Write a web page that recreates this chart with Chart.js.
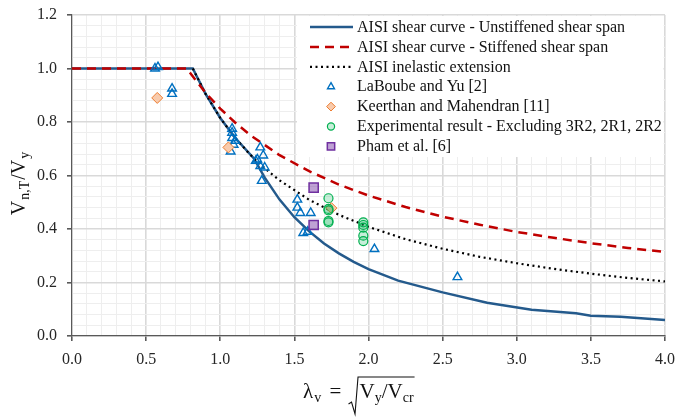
<!DOCTYPE html>
<html><head><meta charset="utf-8">
<script src="https://cdn.jsdelivr.net/npm/chart.js@4/dist/chart.umd.min.js"></script>
<style>html,body{margin:0;padding:0;background:#fff}</style>
</head><body>
<canvas id="c" width="691" height="417"></canvas>
<script>
// ---- Data ----
const unstiffX = [0, 0.815, 0.9, 1.0, 1.1, 1.227, 1.3, 1.4, 1.5, 1.6, 1.7, 1.8, 1.9, 2.0, 2.2, 2.5, 2.8, 3.1, 3.4, 3.5, 3.7, 4.0];
const unstiffY = [1.0, 1.0, 0.906, 0.815, 0.741, 0.664, 0.592, 0.510, 0.444, 0.391, 0.346, 0.309, 0.277, 0.250, 0.207, 0.163, 0.124, 0.098, 0.085, 0.076, 0.072, 0.060];

const stiffX = [0, 0.776, 0.8, 0.9, 1.0, 1.1, 1.2, 1.4, 1.6, 1.8, 2.0, 2.25, 2.5, 2.75, 3.0, 3.25, 3.5, 3.75, 4.0];
const stiffY = [1.0, 1.0, 0.981, 0.910, 0.850, 0.798, 0.752, 0.676, 0.616, 0.566, 0.525, 0.482, 0.446, 0.416, 0.389, 0.367, 0.347, 0.329, 0.314];

const inelX = [0.815, 0.9, 1.0, 1.1, 1.2, 1.3, 1.4, 1.6, 1.8, 2.0, 2.25, 2.5, 2.75, 3.0, 3.25, 3.5, 3.75, 4.0];
const inelY = [1.0, 0.906, 0.815, 0.741, 0.679, 0.627, 0.582, 0.509, 0.453, 0.408, 0.362, 0.326, 0.296, 0.272, 0.251, 0.233, 0.217, 0.204];

const labX = [0.56, 0.58, 0.675, 0.675, 1.08, 1.08, 1.08, 1.09, 1.07, 1.10, 1.27, 1.29, 1.24, 1.27, 1.30, 1.28, 1.25, 1.52, 1.52, 1.54, 1.61, 1.56, 1.59, 2.04, 2.60];
const labY = [1.0, 1.005, 0.925, 0.905, 0.775, 0.76, 0.74, 0.715, 0.69, 0.73, 0.705, 0.675, 0.655, 0.635, 0.63, 0.58, 0.66, 0.51, 0.48, 0.46, 0.46, 0.385, 0.39, 0.325, 0.22];

const keerX = [0.575, 1.055, 1.75];
const keerY = [0.89, 0.705, 0.478];

const expX = [1.73, 1.73, 1.73, 1.73, 1.73, 1.965, 1.965, 1.965, 1.965, 1.965];
const expY = [0.515, 0.475, 0.47, 0.43, 0.425, 0.425, 0.415, 0.405, 0.375, 0.355];

const phamX = [1.63, 1.63];
const phamY = [0.555, 0.415];

const xTickLabels = ['0.0','0.5','1.0','1.5','2.0','2.5','3.0','3.5','4.0'];
const yTickLabels = ['0.0','0.2','0.4','0.6','0.8','1.0','1.2'];

const seriesNames = [
  'AISI shear curve - Unstiffened shear span',
  'AISI shear curve - Stiffened shear span',
  'AISI inelastic extension',
  'LaBoube and Yu [2]',
  'Keerthan and Mahendran [11]',
  'Experimental result - Excluding 3R2, 2R1, 2R2',
  'Pham et al. [6]'
];

const pts = (xs, ys) => xs.map((x, i) => ({x: x, y: ys[i]}));
const SERIF = '"Liberation Serif", "Times New Roman", serif';

const isMajorX = v => Math.abs(v * 2 - Math.round(v * 2)) < 1e-6;
const isMajorY = v => Math.abs(v * 5 - Math.round(v * 5)) < 1e-6;

function drawMarker(ctx, style, x, y, r, fill, stroke, lw) {
  ctx.save();
  ctx.beginPath();
  if (style === 'triangle') {
    for (let k = 0; k < 3; k++) {
      const a = -Math.PI / 2 + k * 2 * Math.PI / 3;
      const px = x + Math.cos(a) * r, py = y + Math.sin(a) * r;
      k ? ctx.lineTo(px, py) : ctx.moveTo(px, py);
    }
    ctx.closePath();
  } else if (style === 'rectRot') {
    ctx.moveTo(x, y - r); ctx.lineTo(x + r, y); ctx.lineTo(x, y + r); ctx.lineTo(x - r, y); ctx.closePath();
  } else if (style === 'rect') {
    const s = r * Math.SQRT1_2;
    ctx.rect(x - s, y - s, 2 * s, 2 * s);
  } else {
    ctx.arc(x, y, r, 0, Math.PI * 2);
  }
  ctx.fillStyle = fill; ctx.fill();
  ctx.strokeStyle = stroke; ctx.lineWidth = lw; ctx.stroke();
  ctx.restore();
}

const legendPlugin = {
  id: 'customLegend',
  afterDraw(chart) {
    const ctx = chart.ctx, a = chart.chartArea;
    const bx = a.right - 368, by = a.top;
    ctx.save();
    ctx.fillStyle = '#ffffff';
    ctx.fillRect(bx, by + 1, a.right - bx - 1.5, 141);
    ctx.font = '16px ' + SERIF;
    ctx.textBaseline = 'middle';
    chart.data.datasets.forEach((ds, i) => {
      const y = by + 12 + i * 19.9;
      const x0 = bx + 13, x1 = bx + 56, tx = bx + 60;
      if (ds.showLine) {
        ctx.save();
        ctx.beginPath();
        ctx.strokeStyle = ds.borderColor;
        ctx.lineWidth = ds.borderWidth;
        ctx.setLineDash(ds.borderDash || []);
        ctx.moveTo(x0, y); ctx.lineTo(x1, y);
        ctx.stroke();
        ctx.restore();
      } else {
        drawMarker(ctx, ds.pointStyle, (x0 + x1) / 2 - 0.5, y, ds.pointRadius * 0.8, ds.backgroundColor, ds.borderColor, ds.borderWidth);
      }
      ctx.fillStyle = '#111111';
      ctx.fillText(ds.label, tx, y + 0.5);
    });
    ctx.restore();
  }
};

const titlePlugin = {
  id: 'axisTitles',
  afterDraw(chart) {
    const ctx = chart.ctx, a = chart.chartArea;
    ctx.save();
    ctx.fillStyle = '#111111';
    ctx.textBaseline = 'alphabetic';
    // Y title, rotated
    const yb = '20px ' + SERIF, ys = '14px ' + SERIF;
    const yParts = [['V', yb, 0, 1], ['n,T', ys, 4, 1], ['/V', yb, 0, 1], ['y', ys, 4, 0]];
    let total = 0;
    yParts.forEach(p => { ctx.font = p[1]; total += ctx.measureText(p[0]).width + p[3]; });
    ctx.translate(a.left - 47, (a.top + a.bottom) / 2 + 8);
    ctx.rotate(-Math.PI / 2);
    let cx = -total / 2;
    yParts.forEach(p => { ctx.font = p[1]; ctx.fillText(p[0], cx, p[2]); cx += ctx.measureText(p[0]).width + p[3]; });
    ctx.restore();

    // X title
    ctx.save();
    ctx.fillStyle = '#111111';
    ctx.textBaseline = 'alphabetic';
    const big = '21px ' + SERIF, small = '14px ' + SERIF;
    const base = a.bottom + 62;
    let x = a.left + 231;
    const put = (t, f, dy) => { ctx.font = f; ctx.fillText(t, x, base + dy); x += ctx.measureText(t).width; };
    put('λ', big, 0); x += 1; put('v', small, 4); x += 3; put(' = ', big, 0); x += 2;
    const rx = x;
    ctx.strokeStyle = '#111111';
    ctx.lineWidth = 1.1;
    ctx.beginPath();
    ctx.moveTo(rx, base + 6);
    ctx.lineTo(rx + 3, base + 4);
    ctx.lineTo(rx + 6.5, base + 16);
    ctx.lineTo(rx + 9.5, base - 21);
    x = rx + 11;
    put('V', big, 0); put('y', small, 4); put('/V', big, 0); put('cr', small, 4);
    ctx.lineTo(x + 1, base - 21);
    ctx.stroke();
    ctx.restore();
  }
};

new Chart(document.getElementById('c'), {
  type: 'scatter',
  data: {
    datasets: [
      { label: seriesNames[0], data: pts(unstiffX, unstiffY), showLine: true, borderColor: '#245a8c', borderWidth: 2.5, pointRadius: 0, fill: false, order: 12 },
      { label: seriesNames[1], data: pts(stiffX, stiffY), showLine: true, borderColor: '#c00000', borderWidth: 2.5, borderDash: [9, 6], pointRadius: 0, fill: false, order: 10 },
      { label: seriesNames[2], data: pts(inelX, inelY), showLine: true, borderColor: '#000000', borderWidth: 2.2, borderDash: [2, 3.5], pointRadius: 0, fill: false, order: 11 },
      { label: seriesNames[3], data: pts(labX, labY), pointStyle: 'triangle', pointRadius: 5, backgroundColor: 'rgba(255,255,255,0)', borderColor: '#0070c0', borderWidth: 1.4, order: 4 },
      { label: seriesNames[4], data: pts(keerX, keerY), pointStyle: 'rectRot', pointRadius: 5.5, backgroundColor: '#f8cbad', borderColor: '#ed7d31', borderWidth: 1, order: 3 },
      { label: seriesNames[5], data: pts(expX, expY), pointStyle: 'circle', pointRadius: 4.5, backgroundColor: 'rgba(0,176,80,0.22)', borderColor: '#00b050', borderWidth: 1.2, order: 2 },
      { label: seriesNames[6], data: pts(phamX, phamY), pointStyle: 'rect', pointRadius: 6.5, backgroundColor: 'rgba(112,48,160,0.45)', borderColor: '#7030a0', borderWidth: 1.5, order: 1 }
    ]
  },
  options: {
    responsive: false,
    animation: false,
    events: [],
    layout: { padding: { left: 0, top: 15, right: 26, bottom: 0 } },
    plugins: { legend: { display: false }, tooltip: { enabled: false } },
    scales: {
      x: {
        type: 'linear', min: 0, max: 4,
        afterFit: s => { s.height = 81; },
        border: { color: '#595959', width: 1.2 },
        grid: {
          color: c => isMajorX(c.tick.value) ? '#d9d9d9' : '#eeeeee',
          lineWidth: c => isMajorX(c.tick.value) ? 1.6 : 1,
          tickColor: c => isMajorX(c.tick.value) ? '#595959' : 'rgba(0,0,0,0)',
          tickLength: 5
        },
        ticks: {
          stepSize: 0.1, autoSkip: false, maxRotation: 0, padding: 9,
          color: '#262626', font: { family: SERIF, size: 16 },
          callback: v => isMajorX(v) ? xTickLabels[Math.round(v * 2)] : ''
        }
      },
      y: {
        type: 'linear', min: 0, max: 1.2,
        afterFit: s => { s.width = 72; },
        border: { color: '#595959', width: 1.2 },
        grid: {
          color: c => isMajorY(c.tick.value) ? '#d9d9d9' : '#eeeeee',
          lineWidth: c => isMajorY(c.tick.value) ? 1.6 : 1,
          tickColor: c => isMajorY(c.tick.value) ? '#595959' : 'rgba(0,0,0,0)',
          tickLength: 5
        },
        ticks: {
          stepSize: 0.04, autoSkip: false, padding: 10,
          color: '#262626', font: { family: SERIF, size: 16, lineHeight: 0.6 },
          callback: v => isMajorY(v) ? yTickLabels[Math.round(v * 5)] : ''
        }
      }
    }
  },
  plugins: [legendPlugin, titlePlugin]
});
</script>
</body></html>
